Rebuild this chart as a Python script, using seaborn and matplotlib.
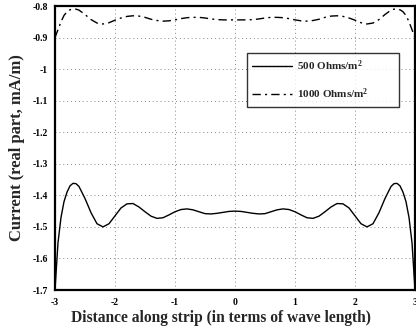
import numpy as np
import pandas as pd
import matplotlib
matplotlib.use("Agg")
import matplotlib.pyplot as plt
import seaborn as sns

# ---- data ----
x_pts = [-3.0, -2.95, -2.9, -2.85, -2.8, -2.75, -2.7, -2.65, -2.6, -2.5, -2.4, -2.3, -2.2, -2.1,
         -2.0, -1.9, -1.8, -1.7, -1.6, -1.5, -1.4, -1.3, -1.2, -1.1, -1.0, -0.9, -0.8, -0.7,
         -0.6, -0.5, -0.4, -0.3, -0.2, -0.1, 0.0,
         0.1, 0.2, 0.3, 0.4, 0.5, 0.6, 0.7, 0.8, 0.9, 1.0, 1.1, 1.2, 1.3, 1.4, 1.5, 1.6, 1.7,
         1.8, 1.9, 2.0, 2.1, 2.2, 2.3, 2.4, 2.5, 2.6, 2.65, 2.7, 2.75, 2.8, 2.85, 2.9, 2.95, 3.0]

current_500 = [-1.70, -1.55, -1.47, -1.42, -1.39, -1.37, -1.362, -1.363, -1.372, -1.41, -1.455, -1.49, -1.50, -1.49,
               -1.465, -1.44, -1.427, -1.426, -1.437, -1.452, -1.466, -1.473, -1.471, -1.462, -1.452, -1.445, -1.443, -1.446,
               -1.452, -1.458, -1.459, -1.457, -1.454, -1.451, -1.450,
               -1.451, -1.454, -1.457, -1.459, -1.458, -1.452, -1.446, -1.443, -1.445, -1.452, -1.462, -1.471, -1.473, -1.466, -1.452, -1.437, -1.426,
               -1.427, -1.44, -1.465, -1.49, -1.50, -1.49, -1.455, -1.41, -1.372, -1.363, -1.362, -1.37, -1.39, -1.42, -1.47, -1.55, -1.70]

current_1000 = [-0.90, -0.875, -0.85, -0.83, -0.818, -0.812, -0.810, -0.810, -0.813, -0.827, -0.843, -0.854, -0.857, -0.853,
                -0.845, -0.838, -0.833, -0.831, -0.832, -0.836, -0.842, -0.846, -0.848, -0.847, -0.844, -0.840, -0.837, -0.836,
                -0.836, -0.838, -0.841, -0.843, -0.844, -0.844, -0.844,
                -0.844, -0.844, -0.843, -0.841, -0.838, -0.836, -0.836, -0.837, -0.840, -0.844, -0.847, -0.848, -0.846, -0.842, -0.836, -0.832, -0.831,
                -0.833, -0.838, -0.845, -0.853, -0.857, -0.854, -0.843, -0.827, -0.813, -0.810, -0.810, -0.812, -0.818, -0.83, -0.85, -0.875, -0.90]

series_names = ["500 Ohms/m$^{2}$", "1000 Ohms/m$^{2}$"]
x_ticks = [-3, -2, -1, 0, 1, 2, 3]
y_ticks = [-0.8, -0.9, -1.0, -1.1, -1.2, -1.3, -1.4, -1.5, -1.6, -1.7]
y_ticklabels = ["-0.8", "-0.9", "-1", "-1.1", "-1.2", "-1.3", "-1.4", "-1.5", "-1.6", "-1.7"]

df = pd.DataFrame({
    "x": x_pts + x_pts,
    "y": current_500 + current_1000,
    "series": [series_names[0]] * len(x_pts) + [series_names[1]] * len(x_pts),
})

sns.set_style("white")
plt.rcParams["font.family"] = ["Liberation Serif", "DejaVu Serif"]
plt.rcParams["font.weight"] = "bold"
plt.rcParams["mathtext.fontset"] = "custom"
plt.rcParams["mathtext.rm"] = "Liberation Serif:bold"
plt.rcParams["mathtext.it"] = "Liberation Serif:bold"
plt.rcParams["mathtext.bf"] = "Liberation Serif:bold"

fig = plt.figure(figsize=(4.16, 3.30), dpi=100)
ax = fig.add_axes([55 / 416, 40 / 330, 360 / 416, 284 / 330])

sns.lineplot(data=df, x="x", y="y", hue="series", style="series",
             palette=["black", "black"],
             dashes={series_names[0]: "", series_names[1]: (6, 3, 1.5, 3)},
             linewidth=1.0, ax=ax, legend=True, sort=False)

ax.set_xlim(-3, 3)
ax.set_ylim(-1.7, -0.8)
ax.set_xticks(x_ticks)
ax.set_xticklabels([str(t) for t in x_ticks], fontsize=7, fontweight="bold")
ax.set_yticks(y_ticks)
ax.set_yticklabels(y_ticklabels, fontsize=7, fontweight="bold")
ax.tick_params(direction="in", length=3, width=0.8, colors="black")
ax.tick_params(axis="y", pad=5)
ax.tick_params(axis="x", pad=6)
ax.grid(True, linestyle=(0, (1, 3)), color="#888888", linewidth=0.7)
for s in ax.spines.values():
    s.set_linewidth(1.6)
    s.set_color("black")

ax.set_xlabel("Distance along strip (in terms of wave length)", fontsize=11.2, fontweight="bold", labelpad=0)
ax.xaxis.set_label_coords(0.461, -0.070)
ax.set_ylabel("Current (real part, mA/m)", fontsize=12, fontweight="bold")
ax.yaxis.set_label_coords(-0.082, 0.5)

leg = ax.legend(loc="upper left", bbox_to_anchor=(0.532, 0.655, 0.424, 0.18), mode="expand", fontsize=8,
                frameon=True, fancybox=False, edgecolor="black", handlelength=3.6,
                borderpad=0.5, labelspacing=1.2, handletextpad=0.4, borderaxespad=0)
leg.get_frame().set_linewidth(1.0)
for t in leg.get_texts():
    t.set_fontweight("bold")

fig.savefig("out.png", dpi=100)
